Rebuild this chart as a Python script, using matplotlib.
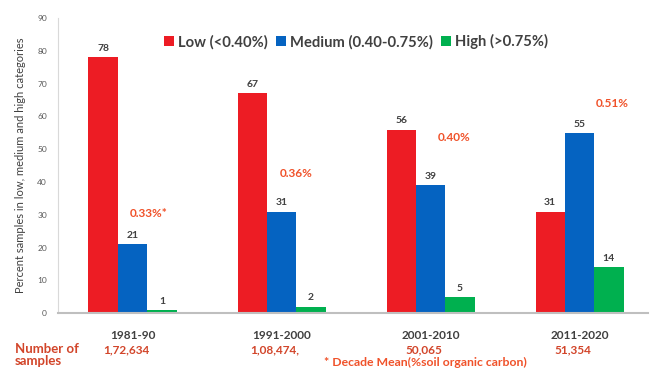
import numpy as np
import matplotlib
matplotlib.use("Agg")
import matplotlib.pyplot as plt

plt.rcParams["font.family"] = ["Lato", "DejaVu Sans"]

decades = ["1981-90", "1991-2000", "2001-2010", "2011-2020"]
low = [78, 67, 56, 31]
medium = [21, 31, 39, 55]
high = [1, 2, 5, 14]
samples = ["1,72,634", "1,08,474,", "50,065", "51,354"]
means = ["0.33%*", "0.36%", "0.40%", "0.51%"]
mean_y = [30.5, 42.5, 53.5, 64]

RED = "#ED1C24"
BLUE = "#0563C1"
GREEN = "#00B04F"
ORANGE = "#F0522A"
TXT = "#404040"

fig = plt.figure(figsize=(6.52, 3.68), dpi=100)
ax = fig.add_axes([0.089, 0.149, 0.905, 0.802])

x = np.arange(len(decades))
w = 0.197
series = [(low, RED, "Low (<0.40%)"),
          (medium, BLUE, "Medium (0.40-0.75%)"),
          (high, GREEN, "High (>0.75%)")]

for i, (vals, col, lab) in enumerate(series):
    pos = x + (i - 1) * w
    ax.bar(pos, vals, w, color=col, label=lab)
    for p, v in zip(pos, vals):
        ax.text(p, v + 1.3, str(v), ha="center", va="bottom",
                fontsize=7.5, color=TXT, fontweight="bold")

# decade mean SOC labels (offsets from group centre, in axis units)
mean_dx = [-0.02, -0.01, 0.05, 0.11]
for xi, dx, m, my in zip(x, mean_dx, means, mean_y):
    ax.text(xi + dx, my, m, ha="left", va="center", fontsize=8.5,
            color=ORANGE, fontweight="bold")

ax.set_ylim(0, 90)
ax.set_xlim(-0.5, 3.46)
ax.set_yticks(range(0, 91, 10))
ax.tick_params(axis="y", labelsize=6, colors="#595959", length=0, pad=8)
ax.set_xticks(x)
ax.set_xticklabels(decades)
ax.tick_params(axis="x", labelsize=8.5, colors=TXT, length=0, pad=12)
for t in ax.get_xticklabels():
    t.set_fontweight("bold")

ax.spines["top"].set_visible(False)
ax.spines["right"].set_visible(False)
ax.spines["left"].set_color("#D9D9D9")
ax.spines["bottom"].set_color("#BFBFBF")
ax.spines["bottom"].set_linewidth(1.5)

ax.set_ylabel("Percent samples in low, medium and high categories",
              fontsize=8, color=TXT, labelpad=8)

ax.legend(loc="upper center", bbox_to_anchor=(0.505, 0.99), ncol=3,
          frameon=False, handlelength=0.7, handleheight=0.7,
          handletextpad=0.3, columnspacing=0.5, labelcolor=TXT,
          prop={"weight": "bold", "size": 10.6})

# sample counts under the categories
for xi, s in zip(x, samples):
    xf = ax.transData.transform((xi, 0))[0] / fig.bbox.width
    fig.text(xf - 0.01, 1 - 350 / 368, s, ha="center", va="center",
             fontsize=8.5, color="#D2452A", fontweight="bold")

fig.text(0.023, 1 - 349 / 368, "Number of", ha="left", va="center",
         fontsize=9.5, color="#D2452A", fontweight="bold")
fig.text(0.023, 1 - 361 / 368, "samples", ha="left", va="center",
         fontsize=9.5, color="#D2452A", fontweight="bold")
fig.text(0.653, 1 - 362 / 368, "* Decade Mean(%soil organic carbon)",
         ha="center", va="center", fontsize=8.8, color=ORANGE,
         fontweight="bold")

fig.savefig("out.png", dpi=100)
